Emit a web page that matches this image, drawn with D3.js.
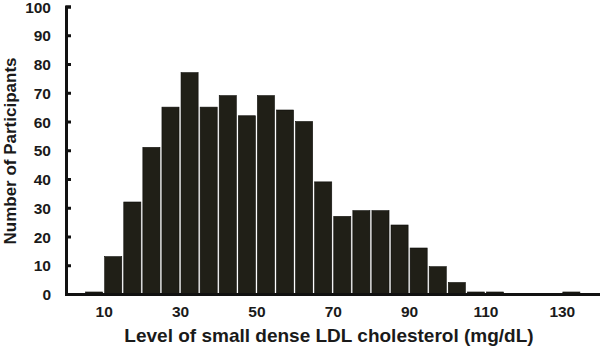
<!DOCTYPE html>
<html>
<head>
<meta charset="utf-8">
<script src="https://cdn.jsdelivr.net/npm/d3@7"></script>
<style>
  body { margin: 0; background: #fff; }
  svg text { font-family: "Liberation Sans", Arial, sans-serif; font-weight: bold; fill: #1a1a1a; }
</style>
</head>
<body>
<div id="container"></div>
<script>
// bins of 5 mg/dL, start value of each bin
let binStarts = [5, 10, 15, 20, 25, 30, 35, 40, 45, 50, 55, 60, 65, 70, 75, 80, 85, 90, 95, 100, 105, 110, 115, 120, 125, 130];
let counts    = [0.7, 13, 32, 51, 65, 77, 65, 69, 62, 69, 64, 60, 39, 27, 29, 29, 24, 16, 9.5, 4, 0.7, 0.7, 0, 0, 0, 0.7];
let xTicks = [10, 30, 50, 70, 90, 110, 130];
let yTicks = [0, 10, 20, 30, 40, 50, 60, 70, 80, 90, 100];
let binWidth = 5;

let w = 600;
let h = 347;

let viz = d3.select("#container")
  .append("svg")
    .attr("width", w)
    .attr("height", h)
    .style("background-color", "white")
;

let xScale = d3.scaleLinear().domain([0, 140]).range([65.5, 600]);
let yScale = d3.scaleLinear().domain([0, 100]).range([294, 6.5]);

// bars
viz.append("g").selectAll("rect")
  .data(binStarts)
  .enter()
  .append("rect")
    .attr("x", function(d){ return xScale(d) + 1; })
    .attr("width", function(d){ return xScale(d + binWidth) - xScale(d) - 2; })
    .attr("y", function(d, i){ return yScale(counts[i]); })
    .attr("height", function(d, i){ return yScale(0) - yScale(counts[i]); })
    .attr("fill", "#201f17")
    .attr("stroke", "#0c0c08")
    .attr("stroke-width", 0.6)
;

// y axis
let yAxis = d3.axisRight(yScale).tickValues(yTicks).tickSize(5).tickFormat(d3.format("d"));
let yAxisGroup = viz.append("g")
  .attr("transform", "translate(66, 0)")
  .call(yAxis);
yAxisGroup.select(".domain").attr("stroke", "#111").attr("stroke-width", 3);
yAxisGroup.selectAll(".tick line").attr("stroke", "#111").attr("stroke-width", 3);
yAxisGroup.selectAll(".tick text")
  .attr("x", -15)
  .attr("dy", "0.36em")
  .attr("text-anchor", "end")
  .attr("font-size", "15.5px")
  .attr("font-family", "Liberation Sans, Arial, sans-serif")
  .attr("font-weight", "bold")
  .attr("fill", "#1a1a1a");

// x axis
let xAxis = d3.axisBottom(xScale).tickValues(xTicks).tickSize(0).tickFormat(d3.format("d"));
let xAxisGroup = viz.append("g")
  .attr("transform", "translate(0, 294)")
  .call(xAxis);
xAxisGroup.select(".domain").attr("stroke", "#111").attr("stroke-width", 3);
xAxisGroup.selectAll(".tick text")
  .attr("y", 12)
  .attr("font-size", "15.5px")
  .attr("font-family", "Liberation Sans, Arial, sans-serif")
  .attr("font-weight", "bold")
  .attr("fill", "#1a1a1a");

// titles
viz.append("text")
  .attr("x", 329)
  .attr("y", 342)
  .attr("text-anchor", "middle")
  .attr("font-size", "19px")
  .text("Level of small dense LDL cholesterol (mg/dL)");

viz.append("text")
  .attr("transform", "translate(16, 151) rotate(-90)")
  .attr("text-anchor", "middle")
  .attr("font-size", "17px")
  .text("Number of Participants");
</script>
</body>
</html>
